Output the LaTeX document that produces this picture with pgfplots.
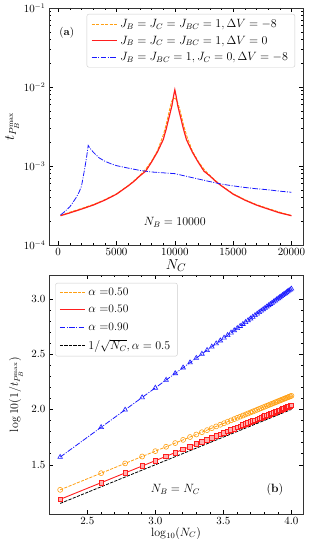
\documentclass[border=0pt]{standalone}
\usepackage{pgfplots}
\pgfplotsset{compat=1.18}
\usepackage{pgfplotstable}
\definecolor{mporange}{RGB}{255,160,20}
\definecolor{mpred}{RGB}{255,30,30}
\definecolor{mpblue}{RGB}{25,25,255}
\definecolor{mppink}{RGB}{255,175,175}

\pgfplotstableread{
x black red orange blue
2.30103 1.1505 1.1875 1.2735 1.5694
2.60206 1.3010 1.3380 1.4240 1.8388
2.77815 1.3891 1.4261 1.5121 1.9964
2.90309 1.4515 1.4885 1.5745 2.1083
3.00000 1.5000 1.5370 1.6230 2.1950
3.07918 1.5396 1.5766 1.6626 2.2659
3.14613 1.5731 1.6101 1.6961 2.3258
3.20412 1.6021 1.6391 1.7251 2.3777
3.25527 1.6276 1.6646 1.7506 2.4235
3.30103 1.6505 1.6875 1.7735 2.4644
3.34242 1.6712 1.7082 1.7942 2.5015
3.38021 1.6901 1.7271 1.8131 2.5353
3.41497 1.7075 1.7445 1.8305 2.5664
3.44716 1.7236 1.7606 1.8466 2.5952
3.47712 1.7386 1.7756 1.8616 2.6220
3.50515 1.7526 1.7896 1.8756 2.6471
3.53148 1.7657 1.8027 1.8887 2.6707
3.55630 1.7782 1.8152 1.9012 2.6929
3.57978 1.7899 1.8269 1.9129 2.7139
3.60206 1.8010 1.8380 1.9240 2.7338
3.62325 1.8116 1.8486 1.9346 2.7528
3.64345 1.8217 1.8587 1.9447 2.7709
3.66276 1.8314 1.8684 1.9544 2.7882
3.68124 1.8406 1.8776 1.9636 2.8047
3.69897 1.8495 1.8865 1.9725 2.8206
3.71600 1.8580 1.8950 1.9810 2.8358
3.73239 1.8662 1.9032 1.9892 2.8505
3.74819 1.8741 1.9111 1.9971 2.8646
3.76343 1.8817 1.9187 2.0047 2.8783
3.77815 1.8891 1.9261 2.0121 2.8914
3.79239 1.8962 1.9332 2.0192 2.9042
3.80618 1.9031 1.9401 2.0261 2.9165
3.81954 1.9098 1.9468 2.0328 2.9285
3.83251 1.9163 1.9533 2.0393 2.9401
3.84510 1.9226 1.9596 2.0456 2.9514
3.85733 1.9287 1.9657 2.0517 2.9623
3.86923 1.9346 1.9716 2.0576 2.9730
3.88081 1.9404 1.9774 2.0634 2.9833
3.89209 1.9460 1.9830 2.0690 2.9934
3.90309 1.9515 1.9885 2.0745 3.0033
3.91381 1.9569 1.9939 2.0799 3.0129
3.92428 1.9621 1.9991 2.0851 3.0222
3.93450 1.9673 2.0043 2.0903 3.0314
3.94448 1.9722 2.0092 2.0952 3.0403
3.95424 1.9771 2.0141 2.1001 3.0490
3.96379 1.9819 2.0189 2.1049 3.0576
3.97313 1.9866 2.0236 2.1096 3.0660
3.98227 1.9911 2.0281 2.1141 3.0741
3.99123 1.9956 2.0326 2.1186 3.0822
4.00000 2.0000 2.0370 2.1230 3.0900
}\tabB

\pgfplotsset{
  mpstyle/.style={
    scale only axis,
    anchor=south west,
    tick align=inside,
    major tick length=4pt,
    minor tick length=2pt,
    every tick/.style={black, line width=0.5pt},
    axis line style={black!80, line width=0.7pt},
    tick label style={font=\fontsize{10.5}{12}\selectfont},
    legend cell align=left,
    legend style={font=\fontsize{11.5}{13}\selectfont, draw=black!20, rounded corners=2pt, fill=white, row sep=3pt, inner xsep=4pt, inner ysep=3pt,
      nodes={inner xsep=3pt}},
  },
  mpdash/.style={dash pattern=on 3.2pt off 1.3pt},
  mpdashdot/.style={dash pattern=on 5.5pt off 1.4pt on 1pt off 1.4pt},
}

\begin{document}
\begin{tikzpicture}[x=1pt,y=1pt]
\path[use as bounding box] (0,0) rectangle (311,551);

% ---------- panel (a)
\begin{axis}[mpstyle,
  at={(49pt,306pt)}, width=254pt, height=237pt,
  ymode=log, ymin=1e-4, ymax=1e-1,
  xmin=-790, xmax=20990,
  xtick={0,5000,10000,15000,20000},
  minor x tick num=4,
  scaled x ticks=false,
  xticklabel style={/pgf/number format/.cd, set thousands separator={}, fixed},
  ytick={1e-4,1e-3,1e-2,1e-1},
  xlabel={$N_C$},
  xlabel style={font=\fontsize{15}{17}\selectfont, at={(axis description cs:0.5,-0.086)}, anchor=center},
  ylabel={$t_{P_B^{\max}}$},
  ylabel style={font=\fontsize{14}{16}\selectfont, at={(axis description cs:-0.145,0.5)}, anchor=center},
  legend style={at={(axis description cs:0.969,0.975)}, anchor=north east},
  legend image code/.code={\draw[#1, mark=none] (0pt,0pt) -- (25pt,0pt);},
]
\addplot[draw=mporange, line width=0.9pt, mpdash] coordinates {
(200,2.36e-4) (1000,2.6e-4) (2000,2.9e-4) (3000,3.25e-4) (4000,3.75e-4) (5000,4.45e-4) (6000,5.65e-4)
(6500,6.5e-4) (7000,7.6e-4) (7500,9.1e-4) (8000,1.15e-3) (8500,1.55e-3) (9000,2.45e-3) (9250,3.3e-3)
(9500,4.8e-3) (9700,6.4e-3) (9850,7.1e-3) (10000,7.2e-3) (10150,6.9e-3) (10300,6.0e-3) (10500,4.7e-3)
(10750,3.3e-3) (11000,2.45e-3) (11500,1.55e-3) (12000,1.15e-3) (12500,9.1e-4) (13000,7.6e-4)
(13500,6.5e-4) (14000,5.65e-4) (15000,4.45e-4) (16000,3.75e-4) (17000,3.25e-4) (18000,2.9e-4)
(19000,2.6e-4) (20000,2.36e-4)
};
\addlegendentry{$J_B=J_C=J_{BC}=1, \Delta V=-8$}
\addplot[draw=mpred, line width=1.2pt] coordinates {
(200,2.35e-4) (1000,2.55e-4) (2000,2.85e-4) (3000,3.2e-4) (4000,3.7e-4) (5000,4.4e-4) (6000,5.6e-4)
(6500,6.4e-4) (7000,7.5e-4) (7500,8.6e-4) (8000,1.12e-3) (8500,1.5e-3) (9000,2.15e-3) (9250,2.9e-3)
(9500,4.1e-3) (9750,5.8e-3) (9900,7.8e-3) (10000,9.2e-3) (10100,7.8e-3) (10250,5.8e-3) (10500,4.1e-3)
(10750,2.9e-3) (11000,2.15e-3) (11500,1.5e-3) (12000,1.12e-3) (12500,8.6e-4) (13000,7.5e-4)
(13500,6.4e-4) (14000,5.6e-4) (15000,4.4e-4) (16000,3.7e-4) (17000,3.2e-4) (18000,2.85e-4)
(19000,2.55e-4) (20000,2.35e-4)
};
\addlegendentry{$J_B=J_C=J_{BC}=1, \Delta V=0$}
\addplot[draw=mpblue, line width=0.8pt, mpdashdot] coordinates {
(200,2.4e-4) (500,2.6e-4) (1000,3.05e-4) (1500,3.9e-4) (1800,4.7e-4) (2000,5.6e-4) (2200,8.1e-4)
(2300,9.8e-4) (2450,1.35e-3) (2570,1.82e-3) (2700,1.7e-3) (3000,1.5e-3) (3500,1.27e-3) (4000,1.15e-3)
(4500,1.07e-3) (5000,1.01e-3) (6000,9.4e-4) (7000,8.8e-4) (8000,8.4e-4) (9000,8.2e-4) (10000,8.0e-4)
(11000,7.4e-4) (12000,6.85e-4) (13000,6.35e-4) (14000,5.9e-4) (15000,5.6e-4) (16000,5.35e-4)
(17000,5.15e-4) (18000,5.0e-4) (19000,4.8e-4) (20000,4.65e-4)
};
\addlegendentry{$J_B=J_{BC}=1, J_C=0, \Delta V=-8$}
\node[font=\fontsize{11}{13}\selectfont] at (axis description cs:0.07,0.895) {$(\mathbf{a})$};
\node[font=\fontsize{11.5}{13}\selectfont] at (axis cs:10000,1.95e-4) {$N_B=10000$};
\end{axis}

% ---------- panel (b)
\begin{axis}[mpstyle,
  at={(49pt,37pt)}, width=254pt, height=239pt,
  xmin=2.219, xmax=4.085, ymin=1.055, ymax=3.215,
  xtick={2.5,3.0,3.5,4.0}, minor x tick num=4,
  ytick={1.5,2.0,2.5,3.0}, minor y tick num=4,
  xticklabel style={/pgf/number format/.cd, fixed, fixed zerofill, precision=1},
  yticklabel style={/pgf/number format/.cd, fixed, fixed zerofill, precision=1},
  xlabel={$\log_{10}(N_C)$},
  xlabel style={font=\fontsize{12}{14}\selectfont, at={(axis description cs:0.5,-0.08)}, anchor=center},
  ylabel={$\log 10(1/t_{P_B^{\max}})$},
  ylabel style={font=\fontsize{12}{14}\selectfont, at={(axis description cs:-0.13,0.5)}, anchor=center},
  legend style={at={(axis description cs:0.025,0.967)}, anchor=north west, row sep=4pt},
  legend image code/.code={\draw[#1, mark=none] (0pt,0pt) -- (25pt,0pt);},
]
\addplot[draw=mporange, line width=0.8pt, mpdash, mark=o, mark size=2.5pt, mark options={solid, draw=mporange, line width=0.6pt}] table[x=x, y=orange] {\tabB};
\addlegendentry{$\alpha=$0.50}
\addplot[draw=mpred, line width=0.9pt, mark=square*, mark size=2.3pt, mark options={solid, draw=mpred, line width=0.6pt, fill=mppink}] table[x=x, y=red] {\tabB};
\addlegendentry{$\alpha=$0.50}
\addplot[draw=mpblue, line width=0.8pt, mpdashdot, mark=triangle, mark size=2.7pt, mark options={solid, draw=mpblue, line width=0.6pt}] table[x=x, y=blue] {\tabB};
\addlegendentry{$\alpha=$0.90}
\addplot[draw=black, line width=0.8pt, mpdash] table[x=x, y=black] {\tabB};
\addlegendentry{$1/\sqrt{N_C}, \alpha=0.5$}
\node[font=\fontsize{11.5}{13}\selectfont] at (axis cs:3.148,1.275) {$N_B=N_C$};
\node[font=\fontsize{11.5}{13}\selectfont] at (axis cs:3.878,1.275) {$(\mathbf{b})$};
\end{axis}
\end{tikzpicture}
\end{document}
